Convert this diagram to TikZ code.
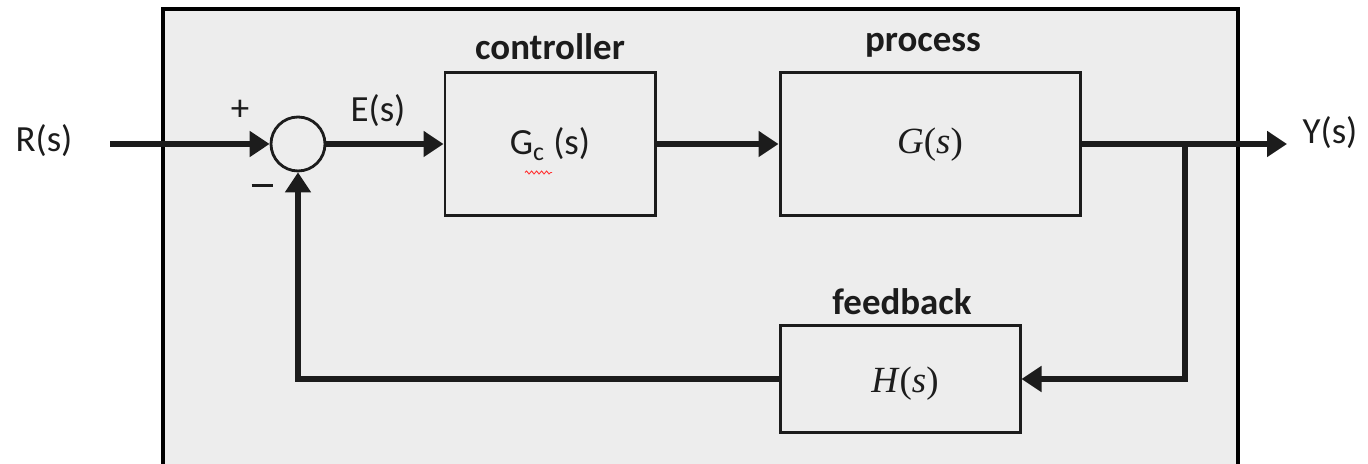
\documentclass[tikz,border=0pt]{standalone}
\usepackage{fontspec}
\setmainfont{Carlito}
\newfontfamily\mathserif{Liberation Serif}
\usepackage{tikz}
\usetikzlibrary{arrows.meta,decorations.pathmorphing}
\definecolor{panel}{HTML}{EDEDED}
\definecolor{ink}{HTML}{1C1C1C}
\tikzset{
  block/.style={
    draw = ink,
    line width = 1.7pt,
    fill = panel,
    shape = rectangle,
    inner sep = 0pt
  },
  summer/.style={
    draw = ink,
    line width = 1.6pt,
    shape = circle,
    minimum size = 1.08cm,
    inner sep = 0pt
  },
  signal/.style={
    line width = 3pt,
    draw = ink,
    -{Triangle[length=0.4cm,width=0.5cm]}
  },
  title/.style={
    font = \fontsize{21}{25}\selectfont\bfseries,
    text = ink
  },
  sig/.style={
    font = \fontsize{21}{25}\selectfont,
    text = ink
  },
  tf/.style={
    font = \mathserif\fontsize{21}{25}\selectfont,
    text = ink
  }
}
\begin{document}
\begin{tikzpicture}
    \useasboundingbox (0,0) rectangle (27.36,9.28);
    \draw[line width=2.3pt, fill=panel] (3.26,-0.3) rectangle (24.76,9.1);

    \node[sig] (R) at (0.88,6.46) {R(s)};
    \coordinate (in) at (2.2,6.4);
    \node[summer] (sum) at (5.96,6.4) {};
    \node[sig] (plus) at (4.8,7.08) {+};
    \node[sig] (minus) at (5.24,5.52) {\rule[0.1cm]{0.42cm}{1.3pt}};
    \node[sig] (E) at (7.56,7.06) {E(s)};

    \node[block, minimum width=4.2cm, minimum height=2.86cm] (ctrl) at (11.0,6.4) {};
    \node[sig] (Gc) at (11.0,6.4) {G\textsubscript{c} (s)};
    \node[title] (ctrllab) at (11.0,8.34) {controller};
    \draw[red!80, line width=0.5pt, decorate, decoration={snake,amplitude=0.3mm,segment length=1mm}]
        ([xshift=-0.5cm,yshift=-0.12cm]Gc.south) -- ([xshift=0.04cm,yshift=-0.12cm]Gc.south);

    \node[block, minimum width=6.0cm, minimum height=2.86cm] (proc) at (18.6,6.4) {};
    \node[tf] (G) at (18.6,6.38) {\textit{G}(\textit{s})};
    \node[title] (proclab) at (18.46,8.38) {process};

    \node[block, minimum width=4.8cm, minimum height=2.14cm] (fb) at (18.0,1.7) {};
    \node[tf] (H) at (18.1,1.6) {\textit{H}(\textit{s})};
    \node[title] (fblab) at (18.04,3.24) {feedback};

    \coordinate (branch) at (23.7,6.4);
    \coordinate (out) at (25.74,6.4);
    \node[sig] (Y) at (26.6,6.62) {Y(s)};

    \draw[signal] (in) -- (sum.west);
    \draw[signal] (sum.east) -- (ctrl.west);
    \draw[signal] (ctrl.east) -- (proc.west);
    \draw[signal] (proc.east) -- (out);
    \draw[signal, line join=miter] (branch) |- (fb.east);
    \draw[signal, line join=miter] (fb.west) -| (sum.south);
\end{tikzpicture}
\end{document}
